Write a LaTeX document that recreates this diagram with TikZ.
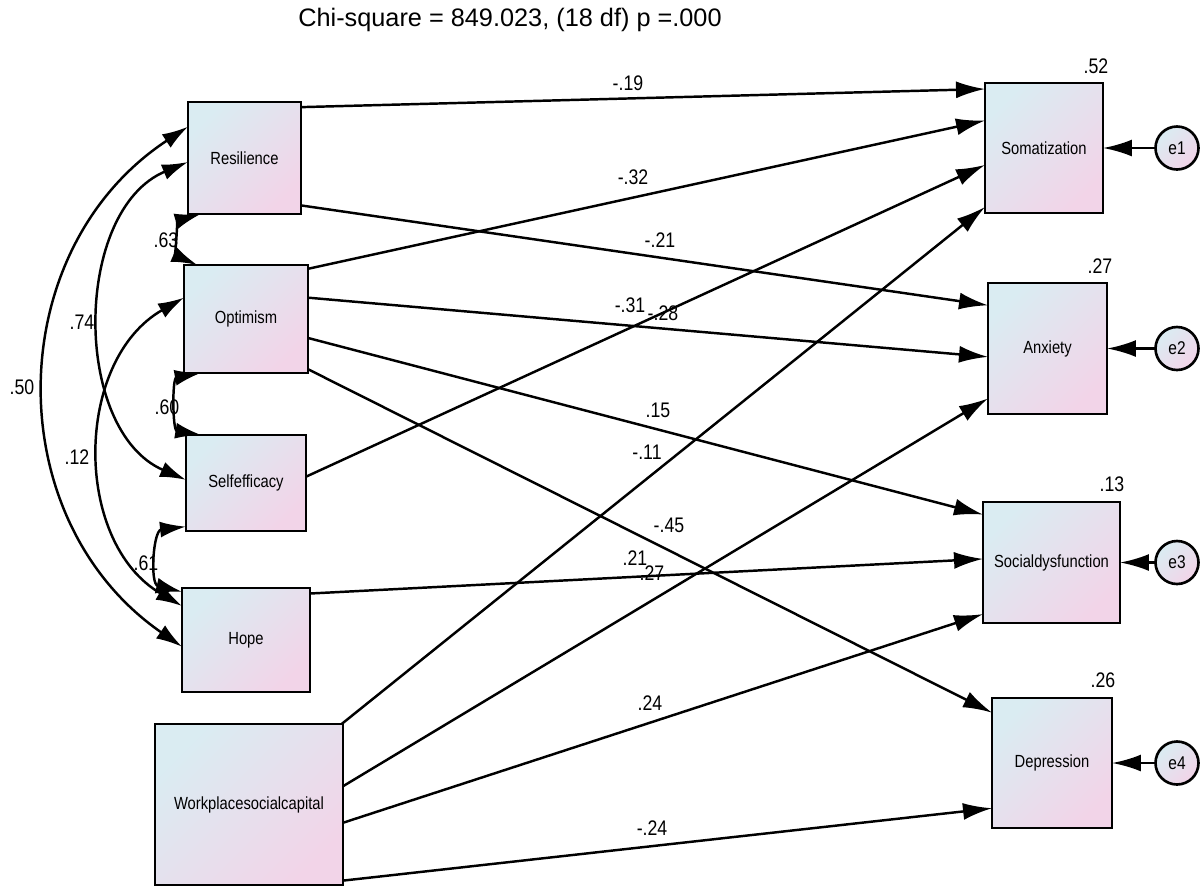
\documentclass[tikz,border=0pt]{standalone}
\usepackage{fontspec}
\setmainfont{Liberation Sans}
\newfontfamily\amosfont[FakeStretch=0.84]{Liberation Sans}
\usepackage{tikz}
\usetikzlibrary{arrows.meta,positioning}
\definecolor{amosblue}{RGB}{218,236,242}
\definecolor{amospink}{RGB}{242,212,232}

\begin{document}
\begin{tikzpicture}[x=0.02cm, y=-0.02cm,
    var/.style={rectangle, draw, line width=1.5pt, inner sep=0pt, outer sep=0pt, top color=amosblue, bottom color=amospink, shading angle=45, font=\amosfont\fontsize{10}{12}\selectfont},
    err/.style={circle, draw, line width=1.5pt, minimum size=0.86cm, inner sep=0pt, outer sep=0pt, top color=amosblue, bottom color=amospink, shading angle=45, font=\amosfont\fontsize{10.5}{12}\selectfont},
    coef/.style={font=\amosfont\fontsize{12}{14}\selectfont, inner sep=0pt},
    reg/.style={line width=1.4pt, -{Latex[length=5.8mm,width=3.4mm]}},
    cov/.style={line width=1.4pt, {Latex[length=5.2mm,width=3.2mm]}-{Latex[length=5.2mm,width=3.2mm]}}]

            \useasboundingbox (0,0) rectangle (1200,887);

            \node[font=\fontsize{14.4}{16}\selectfont] (title) at (510,20) {Chi-square = 849.023, (18 df) p =.000};

            \node[var, minimum width=2.26cm, minimum height=2.24cm] (Res) at (244.5,158) {Resilience};
            \node[var, minimum width=2.48cm, minimum height=2.16cm] (Opt) at (246,319) {Optimism};
            \node[var, minimum width=2.4cm, minimum height=1.92cm] (Self) at (246,483) {Selfefficacy};
            \node[var, minimum width=2.56cm, minimum height=2.08cm] (Hope) at (246,640) {Hope};
            \node[var, minimum width=3.76cm, minimum height=3.22cm] (Work) at (249,804.5) {Workplacesocialcapital};

            \node[var, minimum width=2.36cm, minimum height=2.6cm] (Soma) at (1044,148) {Somatization};
            \node[var, minimum width=2.38cm, minimum height=2.62cm] (Anx) at (1047.5,348.5) {Anxiety};
            \node[var, minimum width=2.74cm, minimum height=2.42cm] (Soc) at (1051.5,562.5) {Socialdysfunction};
            \node[var, minimum width=2.4cm, minimum height=2.6cm] (Dep) at (1052,763) {Depression};


            \foreach \n/ \e/ \y/ \r/ \rx/ \ry in {Soma/e1/148/.52/1096/66, Anx/e2/348.5/.27/1100/266, Soc/e3/562.5/.13/1112/484, Dep/e4/763/.26/1103/680}{
                \node[err] (\e) at (1177,\y) {\e};
                \draw[reg] (\e) -- (\n);
                \node[coef] (r\e) at (\rx,\ry) {\r};
            }


            \foreach \s/ \a/ \t/ \b/ \lx/ \ly/ \v [count=\i] in {
                Res/42/Soma/135/628/83/-.19,
                Opt/39/Soma/155/633/177/-.32,
                Res/320/Anx/144/660/240/-.21,
                Opt/19/Anx/188/630/305/-.31,
                Self/6/Soma/196/663/313/-.28,
                Opt/343/Soc/145/658/410/.15,
                Work/41/Soma/225/647/452/-.11,
                Opt/321/Dep/140/669/525/-.45,
                Work/11/Anx/220/635/558/.21,
                Hope/36/Soc/177/652/573/.27,
                Work/349/Soc/217/650/703/.24,
                Work/321/Dep/217/652/828/-.24}{
                \draw[reg] (\s.\a) -- (\t.\b);
                \node[coef] (w\i) at (\lx,\ly) {\v};
            }


            \draw[cov] (Opt.132) to[bend left=70, looseness=1.2] (Res.232);
            \draw[cov] (Self.133) to[bend left=80, looseness=1.2] (Opt.230);
            \draw[cov] (Hope.143) to[bend left=80, looseness=1.3] (Self.216);
            \draw[cov] (Self.177) to[bend left=67] (Res.184);
            \draw[cov] (Hope.152) to[bend left=60, looseness=1.05] (Opt.161);
            \draw[cov] (Hope.186) to[bend left=56, looseness=1.1] (Res.151);

            \node[coef] (c1) at (166,240) {.63};
            \node[coef] (c2) at (167,407) {.60};
            \node[coef] (c3) at (146,563) {.61};
            \node[coef] (c4) at (82,322) {.74};
            \node[coef] (c5) at (77,457) {.12};
            \node[coef] (c6) at (22,387) {.50};

    \end{tikzpicture}
\end{document}
